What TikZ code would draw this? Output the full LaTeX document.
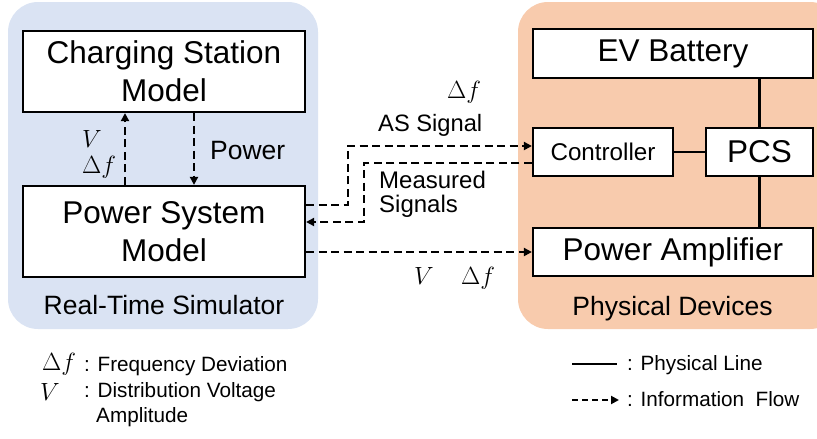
\documentclass[tikz,border=0pt]{standalone}
\usepackage{fontspec}
\setmainfont{Liberation Sans}
\usetikzlibrary{arrows.meta,calc}
\definecolor{bgblue}{HTML}{DAE3F3}
\definecolor{bgorange}{HTML}{F8CBAD}
\begin{document}
\begin{tikzpicture}[x=1pt,y=-1pt,
  box/.style={draw=black,line width=2.2pt,fill=white,inner sep=0pt,align=center},
  big/.style={font=\fontsize{31.5}{38}\selectfont},
  mid/.style={font=\fontsize{26.5}{32}\selectfont},
  small/.style={font=\fontsize{24}{26}\selectfont},
  leg/.style={font=\fontsize{20.7}{25}\selectfont},
  lbl/.style={inner sep=0pt,anchor=base west},
  info/.style={line width=2.6pt,dash pattern=on 8pt off 4.5pt,-{Triangle[length=8pt,width=8pt]}},
  phys/.style={line width=2.2pt}]
\useasboundingbox (0,0) rectangle (817,439);
\begin{scope}
\clip (0,0) rectangle (817,439);
\fill[bgblue,rounded corners=30pt] (8,2) rectangle (318,329);
\fill[bgorange,rounded corners=30pt] (518,2) rectangle (840,329);
\end{scope}

% left side
\node[box,big,minimum width=282pt,minimum height=81pt] (csm) at (164,71.5) {Charging Station\\Model};
\node[box,big,minimum width=282pt,minimum height=91pt] (psm) at (164,231.5) {Power System\\Model};
\coordinate (ux) at (125,0);
\coordinate (dx) at (194,0);
\draw[info] (ux |- psm.north) -- (ux |- csm.south);
\draw[info] (dx |- csm.south) -- (dx |- psm.north);
\node[lbl,small] (vl) at (82,147) {$V$};
\node[lbl,small] (dfl) at (82,173) {$\Delta f$};
\node[lbl,mid] (powl) at (210,159) {Power};
\node[mid,inner sep=0pt,anchor=base] (rts) at (164,314) {Real-Time Simulator};

% right side
\node[box,big,minimum width=280pt,minimum height=49pt] (bat) at (673,53.5) {EV Battery};
\node[box,font=\fontsize{24.2}{28}\selectfont,minimum width=140pt,minimum height=48pt] (ctrl) at (603,152) {Controller};
\node[box,big,minimum width=107pt,minimum height=48pt] (pcs) at (759.5,152) {PCS};
\node[box,big,minimum width=280pt,minimum height=48pt] (pa) at (673,252) {Power Amplifier};
\draw[phys] (pcs.north) -- (pcs.north |- bat.south);
\draw[phys] (pcs.south) -- (pcs.south |- pa.north);
\draw[phys] (ctrl.east) -- (pcs.west);
\node[mid,inner sep=0pt,anchor=base] (pd) at (672.5,315) {Physical Devices};

% middle connectors
\coordinate (asy) at (0,146);
\coordinate (asx) at (348,0);
\coordinate (asy0) at (0,205);
\draw[info] (psm.east |- asy0) -- (asx |- asy0) -- (asx |- asy) -- (ctrl.west |- asy);
\coordinate (msy) at (0,163);
\coordinate (msx) at (364,0);
\coordinate (msy0) at (0,222);
\draw[info] (ctrl.west |- msy) -- (msx |- msy) -- (msx |- msy0) -- (psm.east |- msy0);
\draw[info] (psm.east |- pa.west) -- (pa.west);

\node[lbl,small] (dft) at (447,98) {$\Delta f$};
\node[lbl,font=\fontsize{23.7}{28}\selectfont] (asl) at (378,131) {AS Signal};
\node[lbl,font=\fontsize{24}{28}\selectfont] (msl1) at (379,188) {Measured};
\node[lbl,font=\fontsize{24}{28}\selectfont] (msl2) at (379,212) {Signals};
\node[lbl,small] (vb) at (414,284) {$V$};
\node[lbl,small] (dfb) at (461,284) {$\Delta f$};

% legend
\node[lbl,small] (lgdf) at (42,370) {$\Delta f$};
\node[lbl,leg] (lgdft) at (84,371) {: Frequency Deviation};
\node[lbl,small] (lgv) at (40,400) {$V$};
\node[lbl,leg] (lgvt) at (84,397) {: Distribution Voltage};
\node[lbl,leg] (lgvt2) at (96,422) {Amplitude};
\coordinate (pl1) at (572,364);
\coordinate (pl2) at (617,364);
\draw[phys] (pl1) -- (pl2);
\node[lbl,leg] (plt) at (627,370) {: Physical Line};
\coordinate (il1) at (572,400);
\coordinate (il2) at (619,400);
\draw[line width=2.6pt,dash pattern=on 6pt off 4pt,-{Triangle[length=8pt,width=8pt]}] (il1) -- (il2);
\node[lbl,leg] (ilt) at (627,406) {: Information\ \ Flow};
\end{tikzpicture}
\end{document}
